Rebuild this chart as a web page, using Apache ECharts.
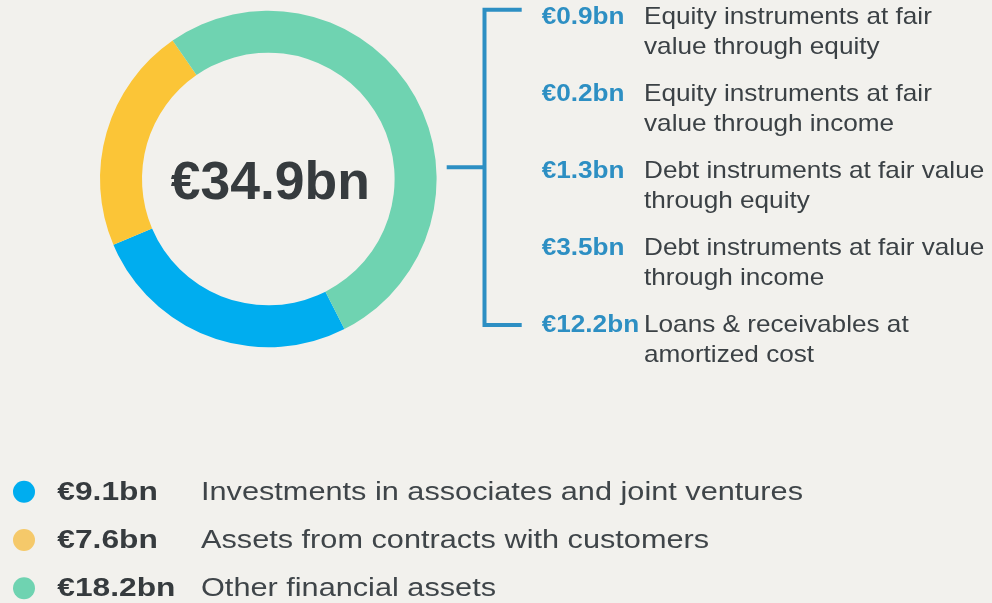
<!DOCTYPE html>
<html>
<head>
<meta charset="utf-8">
<style>
  html, body { margin: 0; padding: 0; background: #f2f1ed; }
  #chart { width: 992px; height: 603px; }
</style>
<script src="https://cdn.jsdelivr.net/npm/echarts@6/dist/echarts.min.js"></script>
</head>
<body>
<div id="chart"></div>
<script>
// Financial assets, € billions
const categories = [
  'Investments in associates and joint ventures',
  'Assets from contracts with customers',
  'Other financial assets'
];
const values = [9.1, 7.6, 18.2];
const ringColors = ['#00adef', '#fbc537', '#6fd3b1'];
const dotColors = ['#00adef', '#f5c96a', '#6fd3b1'];

// Breakdown of "Other financial assets"
const breakdownValues = [0.9, 0.2, 1.3, 3.5, 12.2];
const breakdownLabels = [
  'Equity instruments at fair\nvalue through equity',
  'Equity instruments at fair\nvalue through income',
  'Debt instruments at fair value\nthrough equity',
  'Debt instruments at fair value\nthrough income',
  'Loans & receivables at\namortized cost'
];

const FONT = '"Liberation Sans", Arial, sans-serif';
const DARK = '#363b3e';
const ACCENT = '#2d8fc3';
const fmt = v => '€' + v.toFixed(1) + 'bn';
const total = values.reduce((a, b) => a + b, 0);

const chart = echarts.init(document.getElementById('chart'), null, { renderer: 'canvas' });

const graphics = [];

// total in the middle of the ring
graphics.push({
  type: 'text', x: 270.3, y: 184,
  style: { text: fmt(total), font: 'bold 53.5px ' + FONT, fill: DARK, align: 'center', verticalAlign: 'middle' }
});

// bracket linking the breakdown to the ring
graphics.push({
  type: 'polyline',
  shape: { points: [[521.7, 9.7], [484.5, 9.7], [484.5, 325], [521.7, 325]] },
  style: { stroke: ACCENT, lineWidth: 4, fill: null, lineJoin: 'miter', lineCap: 'butt' }
});
graphics.push({
  type: 'line',
  shape: { x1: 446.7, y1: 167.3, x2: 484.5, y2: 167.3 },
  style: { stroke: ACCENT, lineWidth: 4 }
});

// breakdown rows
breakdownValues.forEach((v, i) => {
  const mid = 26 + 77 * i - 8.3;
  graphics.push({
    type: 'text', x: 541.7, y: mid, scaleX: 1.09,
    style: { text: fmt(v), font: 'bold 24px ' + FONT, fill: ACCENT, align: 'left', verticalAlign: 'middle' }
  });
  graphics.push({
    type: 'text', x: 644, y: mid - 15, scaleX: 1.09,
    style: { text: breakdownLabels[i], font: '24px ' + FONT, fill: '#3b4145', align: 'left', verticalAlign: 'top', lineHeight: 30 }
  });
});

// legend below
const legendMid = [492.7, 541, 589.3];
categories.forEach((name, i) => {
  graphics.push({
    type: 'circle', shape: { cx: 24, cy: legendMid[i] - 1, r: 11 },
    style: { fill: dotColors[i] }
  });
  graphics.push({
    type: 'text', x: 57.3, y: legendMid[i], scaleX: 1.22,
    style: { text: fmt(values[i]), font: 'bold 26px ' + FONT, fill: DARK, align: 'left', verticalAlign: 'middle' }
  });
  graphics.push({
    type: 'text', x: 201, y: legendMid[i], scaleX: 1.18,
    style: { text: name, font: '26px ' + FONT, fill: '#3f4549', align: 'left', verticalAlign: 'middle' }
  });
});

chart.setOption({
  backgroundColor: '#f2f1ed',
  animation: false,
  series: [{
    type: 'pie',
    center: [268.3, 179],
    radius: [126.3, 168.3],
    startAngle: 296.9,
    clockwise: true,
    silent: true,
    label: { show: false },
    labelLine: { show: false },
    itemStyle: { borderWidth: 0 },
    data: categories.map((name, i) => ({ name, value: values[i], itemStyle: { color: ringColors[i] } }))
  }],
  graphic: graphics
});
</script>
</body>
</html>
